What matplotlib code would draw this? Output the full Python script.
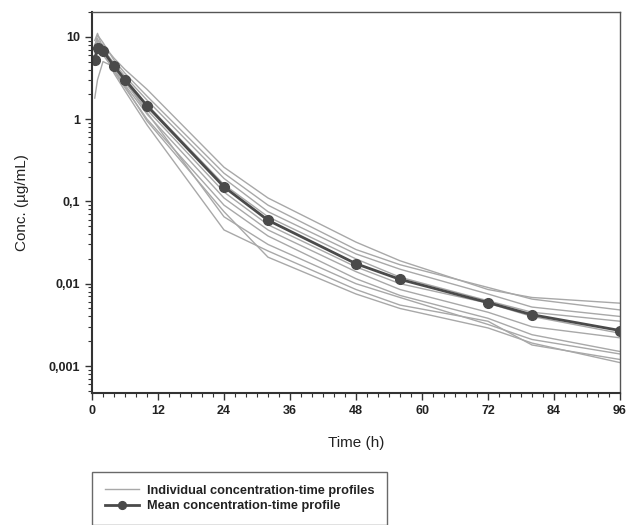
import matplotlib
matplotlib.use("Agg")
import matplotlib.pyplot as plt
from matplotlib.ticker import LogLocator, MultipleLocator, NullFormatter

plt.rcParams['font.family'] = ['Liberation Sans', 'DejaVu Sans']

# sampling times (h)
times = [0.5, 1, 2, 4, 6, 10, 24, 32, 48, 56, 72, 80, 96]

# mean concentration-time profile (ug/mL)
mean_conc = [5.2, 7.3, 6.8, 4.4, 3.0, 1.45, 0.15, 0.059, 0.0175, 0.0113, 0.0059, 0.0042, 0.0027]

# individual profiles (ug/mL)
subj_a = [6.5, 9.0, 8.0, 5.5, 4.0, 2.3, 0.26, 0.11, 0.032, 0.019, 0.0085, 0.0068, 0.0058]
subj_b = [7.5, 10.5, 8.5, 5.2, 3.6, 1.9, 0.22, 0.09, 0.026, 0.017, 0.009, 0.0065, 0.0048]
subj_c = [5.0, 8.0, 7.0, 4.8, 3.3, 1.7, 0.19, 0.075, 0.023, 0.015, 0.0075, 0.0052, 0.0040]
subj_d = [4.5, 7.0, 7.2, 4.6, 3.1, 1.5, 0.16, 0.065, 0.020, 0.012, 0.0062, 0.0045, 0.0035]
subj_e = [6.0, 7.5, 6.5, 4.2, 2.8, 1.3, 0.13, 0.052, 0.016, 0.010, 0.0058, 0.0040, 0.0025]
subj_f = [5.5, 6.8, 6.0, 4.0, 2.6, 1.15, 0.11, 0.045, 0.014, 0.0085, 0.0045, 0.0030, 0.0022]
subj_g = [8.0, 9.5, 6.5, 3.8, 2.4, 1.0, 0.09, 0.038, 0.0115, 0.0072, 0.0038, 0.0024, 0.0015]
subj_h = [1.8, 3.0, 5.0, 4.3, 2.9, 1.2, 0.065, 0.030, 0.010, 0.0068, 0.0032, 0.0021, 0.0014]
subj_i = [9.0, 11.0, 7.0, 3.6, 2.2, 0.85, 0.045, 0.025, 0.0085, 0.0055, 0.0035, 0.0018, 0.0012]
subj_j = [7.0, 8.5, 6.8, 3.9, 2.5, 0.95, 0.075, 0.021, 0.0075, 0.005, 0.0029, 0.0019, 0.0011]
individuals = [subj_a, subj_b, subj_c, subj_d, subj_e, subj_f, subj_g, subj_h, subj_i, subj_j]

ytick_vals = [0.001, 0.01, 0.1, 1, 10]
ytick_labels = ['0,001', '0,01', '0,1', '1', '10']
xtick_vals = [0, 12, 24, 36, 48, 60, 72, 84, 96]

fig = plt.figure(figsize=(6.28, 5.25), dpi=100)
ax = fig.add_axes([92/628, 1 - 393/525, 528/628, 381/525])

for i, conc in enumerate(individuals):
    ax.plot(times, conc, color='#a8a8a8', lw=1.0,
            label='Individual concentration-time profiles' if i == 0 else None)
ax.plot(times, mean_conc, color='#4a4a4a', lw=2.0, marker='o', markersize=7,
        label='Mean concentration-time profile')

ax.set_yscale('log')
ax.set_ylim(0.00047, 20)
ax.set_xlim(0, 96)

ax.set_yticks(ytick_vals)
ax.set_yticklabels(ytick_labels, fontweight='bold', fontsize=9)
ax.yaxis.set_minor_locator(LogLocator(base=10, subs=range(2, 10)))
ax.yaxis.set_minor_formatter(NullFormatter())

ax.set_xticks(xtick_vals)
ax.set_xticklabels([str(v) for v in xtick_vals], fontweight='bold', fontsize=9)
ax.xaxis.set_minor_locator(MultipleLocator(2))

ax.tick_params(which='major', direction='out', length=5, width=1, color='#333333', labelcolor='#222222')
ax.tick_params(which='minor', direction='out', length=3, width=0.8, color='#333333')
ax.tick_params(top=False, right=False)

for side in ['left', 'bottom']:
    ax.spines[side].set_linewidth(1.5)
    ax.spines[side].set_color('#333333')
for side in ['top', 'right']:
    ax.spines[side].set_linewidth(1.0)
    ax.spines[side].set_color('#555555')

ax.set_xlabel('Time (h)', fontsize=11, labelpad=14, color='#222222')
ax.set_ylabel('Conc. (\u00b5g/mL)', fontsize=11, labelpad=14, color='#222222')

# legend box sits under the axes, its bottom edge runs off the page
leg = fig.legend(loc='upper left', bbox_to_anchor=(92/628, 1 - 472/525),
                 borderaxespad=0, fontsize=9.2, frameon=True, fancybox=False,
                 borderpad=1.0, handlelength=2.7, handletextpad=0.6,
                 labelspacing=0.25, markerscale=0.8)
leg.get_frame().set_edgecolor('#444444')
leg.get_frame().set_linewidth(1.0)
for t in leg.get_texts():
    t.set_fontweight('bold')
    t.set_color('#222222')

fig.savefig('out.png', dpi=100)
